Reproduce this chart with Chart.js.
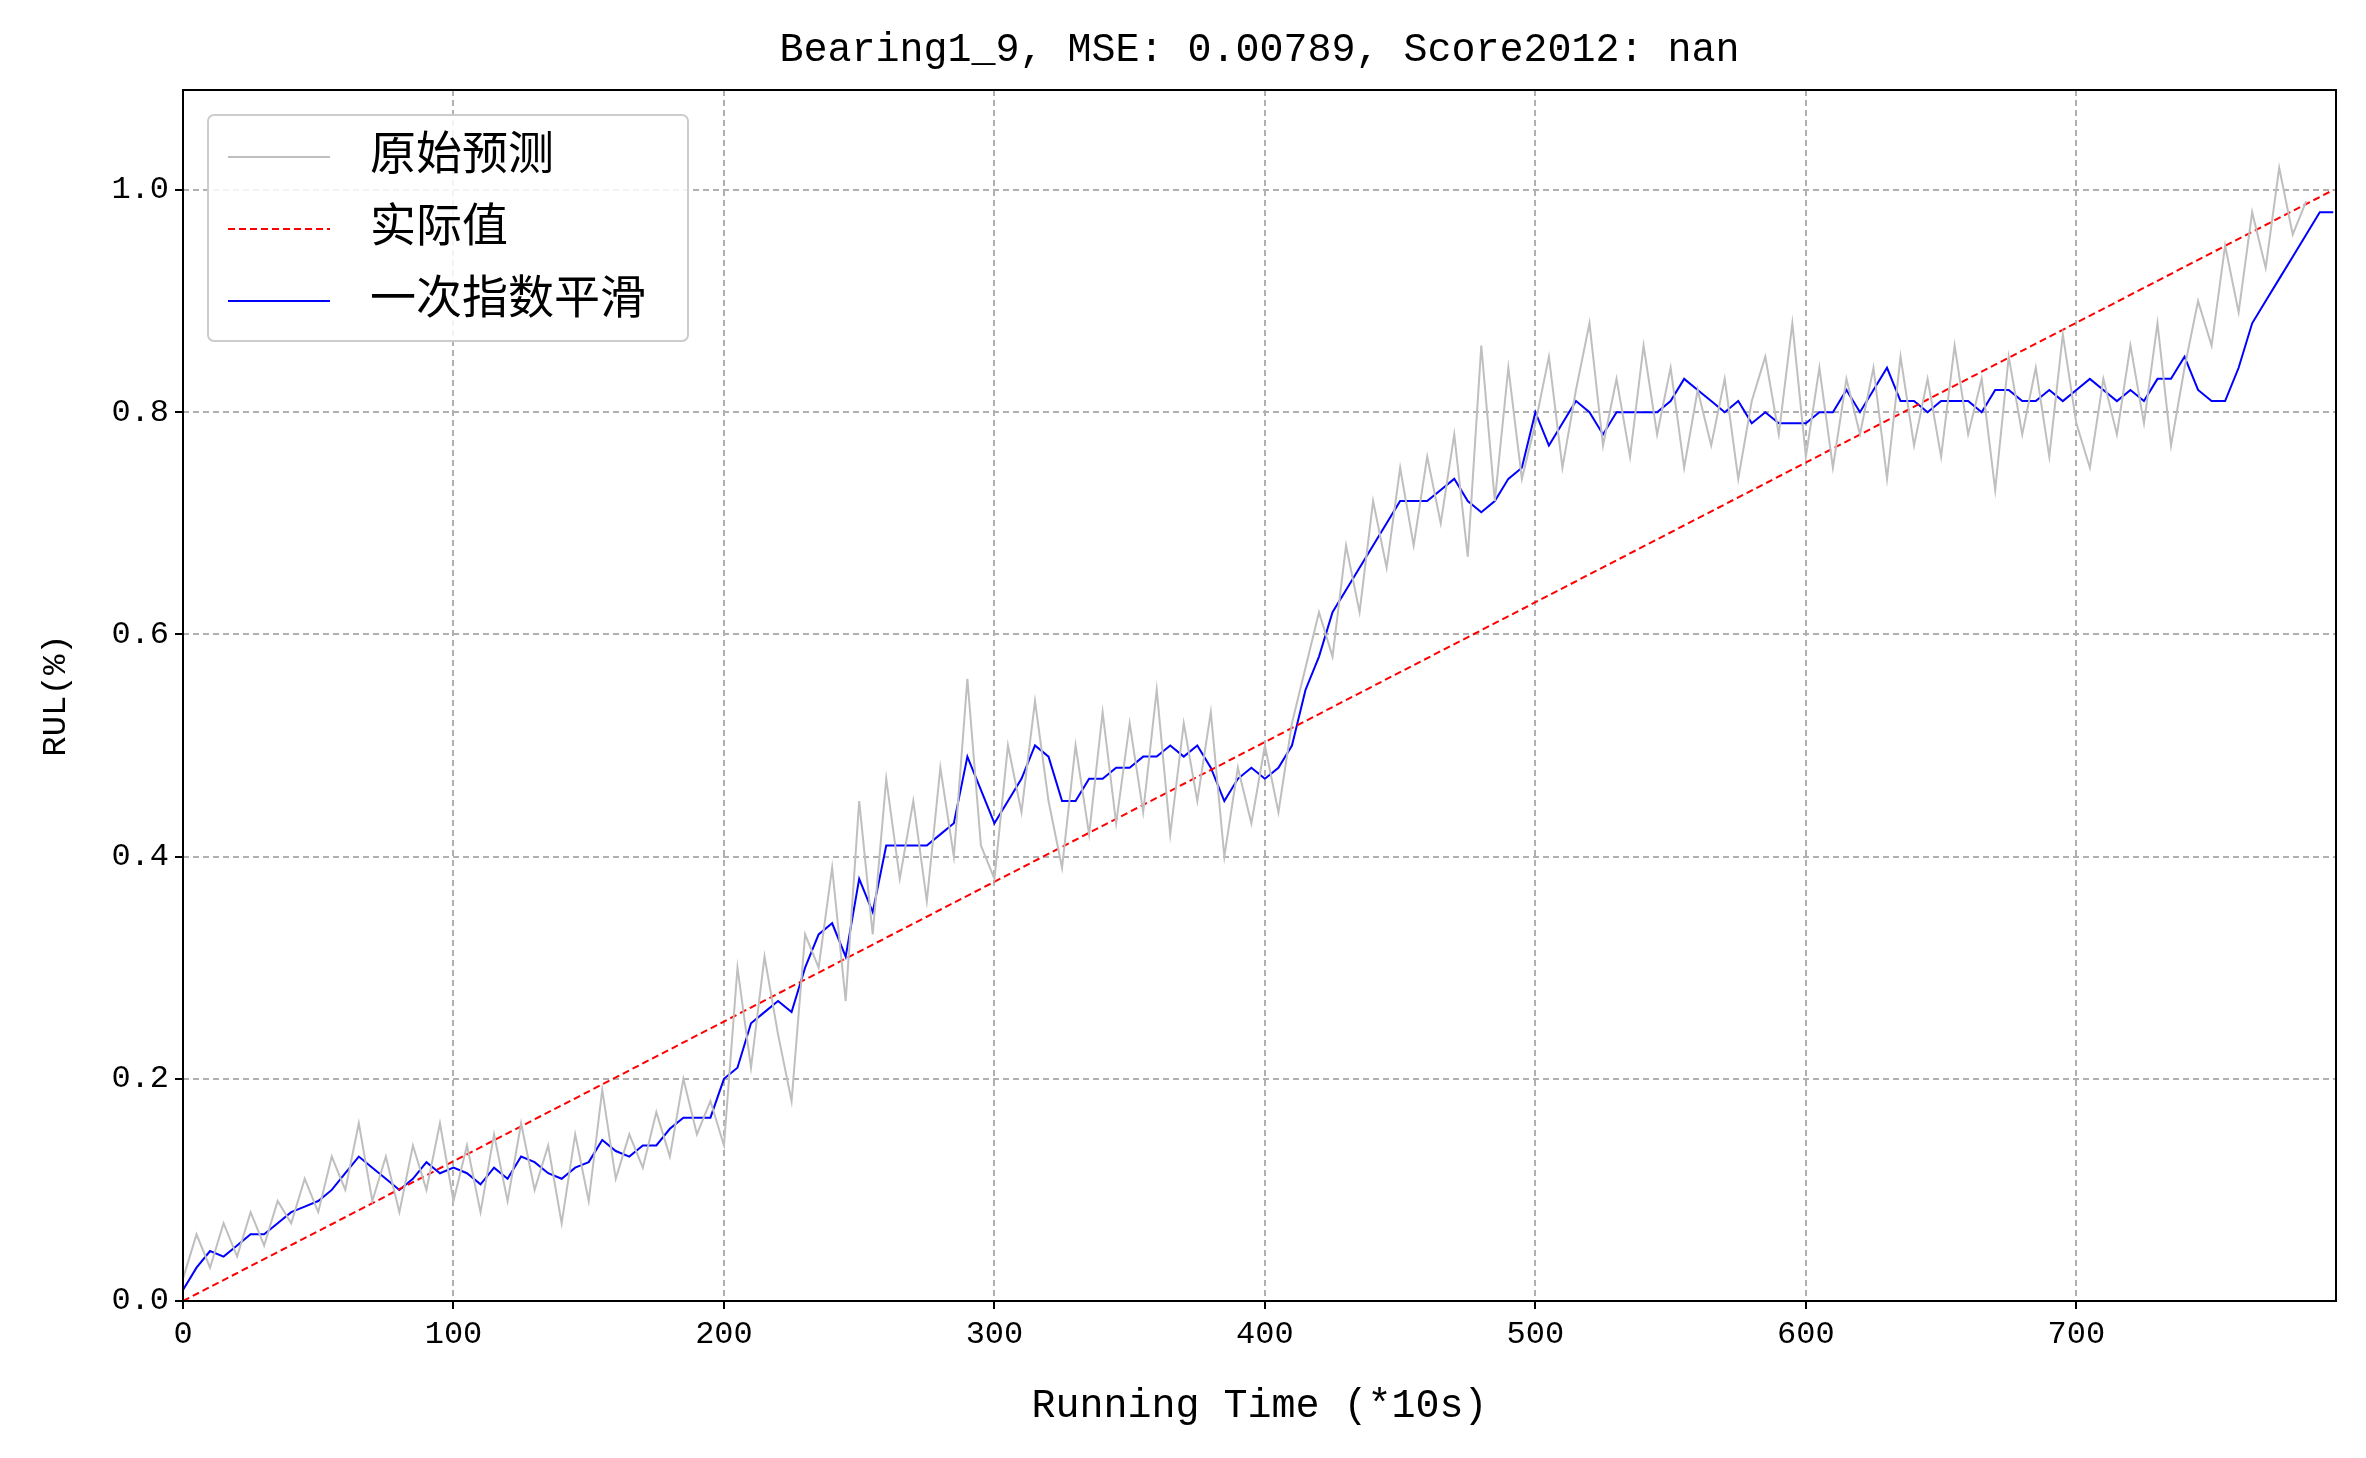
<!DOCTYPE html>
<html lang="zh">
<head>
    <meta charset="UTF-8">
    <title>Bearing1_9</title>
    <script src="https://cdn.jsdelivr.net/npm/chart.js"></script>
    <style>
        html, body { margin: 0; padding: 0; background: #fff; }
        #wrap { width: 2366px; height: 1458px; }
    </style>
</head>
<body>
    <div id="wrap"><canvas id="rul-chart"></canvas></div>
    <script>
        // sampled every 5 steps (*10s)
        const step = 5;
        const rawPred = [
            0.02, 0.06, 0.03, 0.07, 0.04, 0.08, 0.05, 0.09, 0.07, 0.11, 0.08, 0.13, 0.10, 0.16, 0.09, 0.13,
            0.08, 0.14, 0.10, 0.16, 0.09, 0.14, 0.08, 0.15, 0.09, 0.16, 0.10, 0.14, 0.07, 0.15, 0.09, 0.19,
            0.11, 0.15, 0.12, 0.17, 0.13, 0.20, 0.15, 0.18, 0.14, 0.30, 0.21, 0.31, 0.24, 0.18, 0.33, 0.30,
            0.39, 0.27, 0.45, 0.33, 0.47, 0.38, 0.45, 0.36, 0.48, 0.40, 0.56, 0.41, 0.38, 0.50, 0.44, 0.54,
            0.45, 0.39, 0.50, 0.42, 0.53, 0.43, 0.52, 0.44, 0.55, 0.42, 0.52, 0.45, 0.53, 0.40, 0.48, 0.43,
            0.50, 0.44, 0.52, 0.57, 0.62, 0.58, 0.68, 0.62, 0.72, 0.66, 0.75, 0.68, 0.76, 0.70, 0.78, 0.67,
            0.86, 0.72, 0.84, 0.74, 0.79, 0.85, 0.75, 0.82, 0.88, 0.77, 0.83, 0.76, 0.86, 0.78, 0.84, 0.75,
            0.82, 0.77, 0.83, 0.74, 0.81, 0.85, 0.78, 0.88, 0.76, 0.84, 0.75, 0.83, 0.78, 0.84, 0.74, 0.85,
            0.77, 0.83, 0.76, 0.86, 0.78, 0.83, 0.73, 0.85, 0.78, 0.84, 0.76, 0.87, 0.79, 0.75, 0.83, 0.78,
            0.86, 0.79, 0.88, 0.77, 0.84, 0.90, 0.86, 0.95, 0.89, 0.98, 0.93, 1.02, 0.96, 0.99
        ];
        const smoothed = [
            0.01, 0.03, 0.045, 0.04, 0.05, 0.06, 0.06, 0.07, 0.08, 0.085, 0.09, 0.10, 0.115, 0.13, 0.12, 0.11,
            0.10, 0.11, 0.125, 0.115, 0.12, 0.115, 0.105, 0.12, 0.11, 0.13, 0.125, 0.115, 0.11, 0.12, 0.125, 0.145,
            0.135, 0.13, 0.14, 0.14, 0.155, 0.165, 0.165, 0.165, 0.20, 0.21, 0.25, 0.26, 0.27, 0.26, 0.30, 0.33,
            0.34, 0.31, 0.38, 0.35, 0.41, 0.41, 0.41, 0.41, 0.42, 0.43, 0.49, 0.46, 0.43, 0.45, 0.47, 0.50,
            0.49, 0.45, 0.45, 0.47, 0.47, 0.48, 0.48, 0.49, 0.49, 0.50, 0.49, 0.50, 0.48, 0.45, 0.47, 0.48,
            0.47, 0.48, 0.50, 0.55, 0.58, 0.62, 0.64, 0.66, 0.68, 0.70, 0.72, 0.72, 0.72, 0.73, 0.74, 0.72,
            0.71, 0.72, 0.74, 0.75, 0.80, 0.77, 0.79, 0.81, 0.80, 0.78, 0.80, 0.80, 0.80, 0.80, 0.81, 0.83,
            0.82, 0.81, 0.80, 0.81, 0.79, 0.80, 0.79, 0.79, 0.79, 0.80, 0.80, 0.82, 0.80, 0.82, 0.84, 0.81,
            0.81, 0.80, 0.81, 0.81, 0.81, 0.80, 0.82, 0.82, 0.81, 0.81, 0.82, 0.81, 0.82, 0.83, 0.82, 0.81,
            0.82, 0.81, 0.83, 0.83, 0.85, 0.82, 0.81, 0.81, 0.84, 0.88, 0.90, 0.92, 0.94, 0.96, 0.98, 0.98
        ];
        const actualX = [0, 795];
        const actualY = [0, 1];
        const xTicks = [0, 100, 200, 300, 400, 500, 600, 700];
        const yTicks = [0.0, 0.2, 0.4, 0.6, 0.8, 1.0];
        const labels = ['原始预测', '实际值', '一次指数平滑'];
        const titleText = 'Bearing1_9, MSE: 0.00789, Score2012: nan';

        const FONT = "'Liberation Mono', 'Noto Sans CJK SC', monospace";
        const toPts = (arr) => arr.map((v, i) => ({ x: Math.min(i * step, 795), y: v }));

        const frameAndLegend = {
            id: 'frameAndLegend',
            afterDraw(chart) {
                const { ctx, chartArea: a } = chart;
                ctx.save();
                ctx.strokeStyle = '#000';
                ctx.lineWidth = 2;
                ctx.setLineDash([]);
                ctx.strokeRect(a.left, a.top, a.right - a.left, a.bottom - a.top);

                ctx.fillStyle = '#000';
                ctx.font = '40px ' + FONT;
                ctx.textAlign = 'center';
                ctx.textBaseline = 'middle';
                ctx.fillText(titleText, (a.left + a.right) / 2, 50);

                // legend box
                const bx = 208, by = 115, bw = 480, bh = 226;
                ctx.fillStyle = 'rgba(255,255,255,0.85)';
                ctx.strokeStyle = '#ccc';
                ctx.lineWidth = 2;
                ctx.beginPath();
                ctx.roundRect(bx, by, bw, bh, 6);
                ctx.fill();
                ctx.stroke();
                ctx.font = '46px ' + FONT;
                ctx.textAlign = 'left';
                chart.data.datasets.forEach((ds, i) => {
                    const y = by + 42 + i * 72;
                    ctx.strokeStyle = ds.borderColor;
                    ctx.lineWidth = ds.borderWidth;
                    ctx.setLineDash(ds.borderDash || []);
                    ctx.beginPath();
                    ctx.moveTo(bx + 20, y);
                    ctx.lineTo(bx + 122, y);
                    ctx.stroke();
                    ctx.fillStyle = '#000';
                    ctx.fillText(ds.label, bx + 162, y);
                });
                ctx.restore();
            }
        };

        const gridOpts = { color: '#b0b0b0', lineWidth: 2, tickColor: '#000', tickLength: 8, tickBorderDash: [], tickWidth: 2 };

        new Chart(document.getElementById('rul-chart'), {
            type: 'line',
            data: {
                datasets: [
                    { label: labels[0], data: toPts(rawPred), borderColor: '#bfbfbf', borderWidth: 2, pointRadius: 0, tension: 0 },
                    { label: labels[1], data: actualX.map((x, i) => ({ x, y: actualY[i] })), borderColor: '#ff0000', borderWidth: 2, borderDash: [7, 4], pointRadius: 0 },
                    { label: labels[2], data: toPts(smoothed), borderColor: '#0000ff', borderWidth: 2, pointRadius: 0, tension: 0 }
                ]
            },
            options: {
                responsive: true,
                maintainAspectRatio: false,
                animation: false,
                layout: { padding: { top: 90, right: 30, left: 0, bottom: 0 } },
                plugins: { legend: { display: false }, title: { display: false }, tooltip: { enabled: false } },
                scales: {
                    x: {
                        type: 'linear', min: 0, max: 796,
                        afterBuildTicks: (s) => { s.ticks = xTicks.map(v => ({ value: v })); },
                        afterFit: (s) => { s.height = 157; },
                        grid: gridOpts,
                        border: { display: false, dash: [6, 4] },
                        ticks: { color: '#000', font: { family: FONT, size: 32 }, padding: 6, maxRotation: 0 },
                        title: { display: true, text: 'Running Time (*10s)', color: '#000', font: { family: FONT, size: 40 }, padding: { top: 4, bottom: 28 } }
                    },
                    y: {
                        min: 0, max: 1.09,
                        afterBuildTicks: (s) => { s.ticks = yTicks.map(v => ({ value: v })); },
                        afterFit: (s) => { s.width = 183; },
                        grid: gridOpts,
                        border: { display: false, dash: [6, 4] },
                        ticks: { color: '#000', font: { family: FONT, size: 32 }, padding: 6, callback: (v) => v.toFixed(1) },
                        title: { display: true, text: 'RUL(%)', color: '#000', font: { family: FONT, size: 34 }, padding: { top: 36, bottom: 0 } }
                    }
                }
            },
            plugins: [frameAndLegend]
        });
    </script>
</body>
</html>
